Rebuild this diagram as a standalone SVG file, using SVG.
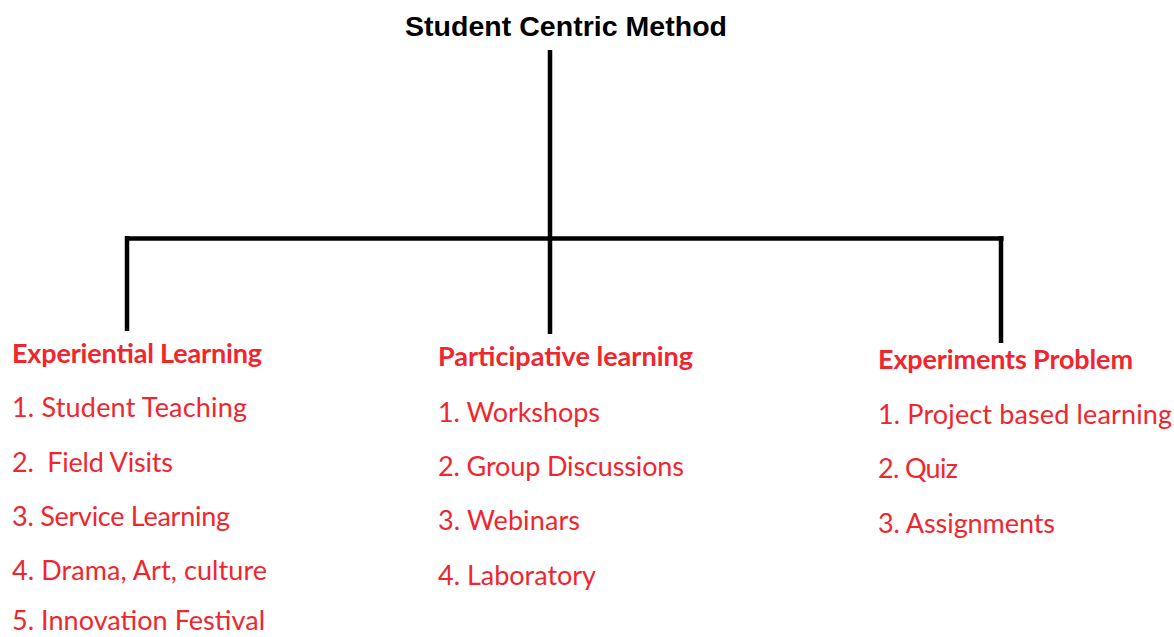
<svg xmlns="http://www.w3.org/2000/svg" width="1174" height="637" viewBox="0 0 1174 637">
<style>
.title{font-family:"Liberation Sans",Arial,sans-serif;font-weight:bold;font-size:28.5px;fill:#000}
.h{font-family:Lato,"Open Sans",sans-serif;font-weight:bold;font-size:27px;fill:#F0262E}
.i{font-family:Lato,"Open Sans",sans-serif;font-size:27px;fill:#F0262E}
.ln{stroke:#000;stroke-width:4.5;fill:none;stroke-linecap:butt}
</style>
<rect width="1174" height="637" fill="#fff"/>
<g id="connectors">
<line class="ln" x1="550" y1="50" x2="550" y2="334"/>
<line class="ln" x1="125" y1="238.5" x2="1003.5" y2="238.5"/>
<line class="ln" x1="127" y1="236" x2="127" y2="331"/>
<line class="ln" x1="1001" y1="236" x2="1001" y2="343"/>
</g>
<g id="root">
<text class="title" x="405" y="36" textLength="322">Student Centric Method</text>
</g>
<g id="experiential">
<text class="h" x="12" y="363" textLength="250">Experiential Learning</text>
<text class="i" x="12" y="417" textLength="235">1. Student Teaching</text>
<text class="i" x="12" y="472" textLength="161" xml:space="preserve">2.  Field Visits</text>
<text class="i" x="12" y="526" textLength="218">3. Service Learning</text>
<text class="i" x="12" y="580" textLength="255">4. Drama, Art, culture</text>
<text class="i" x="12" y="630" textLength="253">5. Innovation Festival</text>
</g>
<g id="participative">
<text class="h" x="438" y="366" textLength="255">Participative learning</text>
<text class="i" x="438" y="422" textLength="162">1. Workshops</text>
<text class="i" x="438" y="476" textLength="246">2. Group Discussions</text>
<text class="i" x="438" y="530" textLength="142">3. Webinars</text>
<text class="i" x="438" y="585" textLength="158">4. Laboratory</text>
</g>
<g id="experiments">
<text class="h" x="878" y="369" textLength="255">Experiments Problem</text>
<text class="i" x="878" y="424" textLength="294">1. Project based learning</text>
<text class="i" x="878" y="478" textLength="80">2. Quiz</text>
<text class="i" x="878" y="533" textLength="177">3. Assignments</text>
</g>
</svg>
